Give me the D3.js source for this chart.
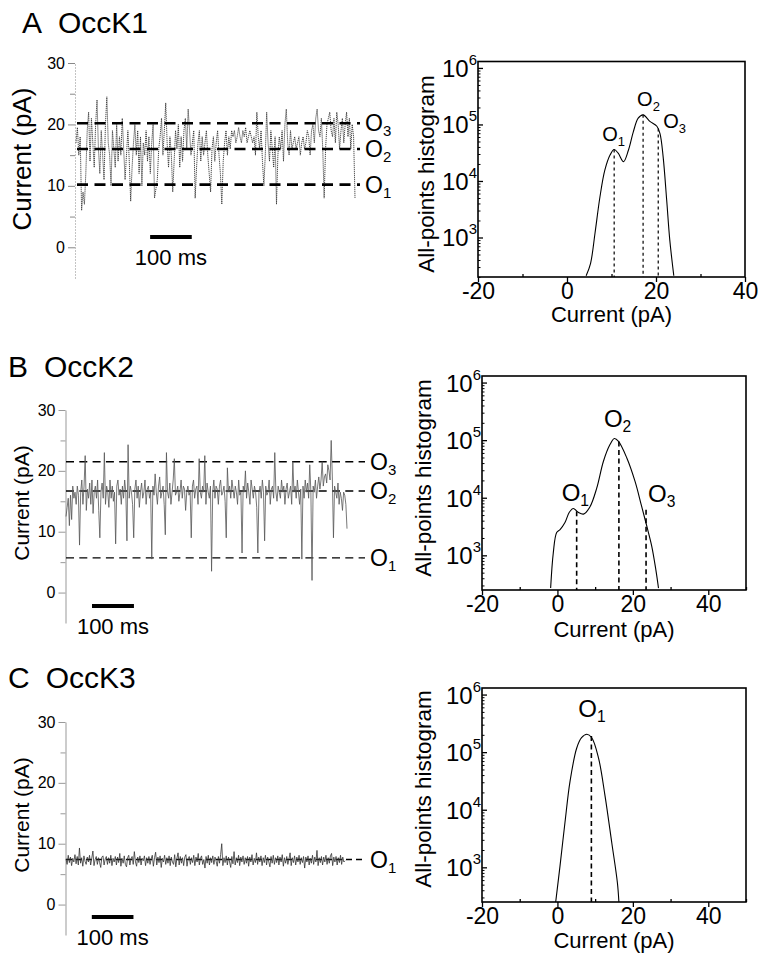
<!DOCTYPE html>
<html><head><meta charset="utf-8">
<script src="https://cdn.jsdelivr.net/npm/d3@7"></script>
<style>
body{margin:0;background:#fff}
svg{display:block}
text{font-family:"Liberation Sans",Arial,Helvetica,sans-serif;fill:#000}
</style>
</head><body>
<svg id="c" width="765" height="960"></svg>
<script>
// ---------- DATA ----------
const panelTitles = [["A","OccK1"],["B","OccK2"],["C","OccK3"]];
const traceTicks = [0,10,20,30];
const traceMinorTicks = [5,15,25];
const histXTicksA = [-20,0,20,40];
const histXMinorA = [-10,10,30];
const histXTicksBC = [-20,0,20,40];
const histXMinorBC = [-10,10,30,50];
const histYTicks = [1e3,1e4,1e5,1e6];

// Current traces (pA), evenly sampled over ~670 ms
const traceA = [17,19.5,15,18,6,9,7,12,19,22,
14,21,17,13,20,24,16,12,19,15,
11,20,24.5,17,15,10,19,16,13,20,
14,18,15,21,16,11,15,19,14,7.5,
13,17,20,15,19,12,18,10,17,15,
19,14,18,12,17,20,8,9.5,11,16,
18,21,15,19,23.5,17,13,18,15,9,
14,19,16,20,13,18,14,19,21,16,
22.5,19,15,17,19,8,13,17,19,14,
18,15,17,19,15,12,9,16,18,14,
17,19,15,12,7,14,17,19,15,18,
16,19,18,19,17,18,19.5,18,17,19,
18,19.5,17,18,19,18,17,18,15,22,
18,16,19,14,10,15,22,17,14,19,
16,13,18,7,15,18,16,19,14,20,
22.5,17,15,19,16,17,18,16,17,18,
15,17,18,16,17,19,18,15,19,20,
17,21,22.5,19,18,21,16,8,16,20,
21,22,19,18,21,17,22,20,16,19,
21,17,20,22,18,21,16,20,18,8];
const traceB = [12.5,14,15.5,11,16,12,17.5,15.5,16.5,14.5,
17.5,16,7.8,16.5,18.5,14.5,17.5,22.5,13.5,17,
15.5,18,14.5,18.5,13,16.5,17.5,15.5,18.5,13.5,
9,16.5,18,15.5,23,14.5,17.5,16.5,14,18.5,
15.5,17.5,15,16.5,8,17.5,18.5,16,17,14.5,
17.5,15.5,18.5,16.5,8.5,24.3,15.5,17.5,16.5,14.5,
9,17,18.5,15.5,17.5,14,16.5,18,15.5,16.5,
18.5,14.5,17,17.5,15.5,16.5,5.5,17.5,16,19.5,
16.5,14.5,17.5,19,15.5,16.5,17.5,14.5,9.5,23,
16.5,15.5,18,14.5,16.5,18.5,22,16,16.5,17.5,
15,16.5,18.5,15.5,17.5,17,13.5,16.5,17.5,16,
16.5,9,17.5,18.5,15.5,17,17.5,14.5,22,16.5,
15.5,17.5,16.5,22.5,14.5,18,16.5,15.5,17.5,3.5,
16.5,18.5,15.5,17.5,17,14.5,17.5,18.5,16,16.5,
17.5,15,9,20.5,16.5,17.5,15.5,18.5,17,15.5,
17.5,16.5,14.5,18.5,16,16.5,6.5,17.5,16.5,20,
15.5,18,16.5,14.5,18.5,17,15.5,17.5,16.5,14,
6.5,16.5,17.5,15.5,18.5,16.5,8.5,17.5,16,16.5,
18.5,14.5,17,17.5,15.5,23,16.5,15,17.5,16.5,
15.5,18.5,16.5,17.5,14.5,17,18,15.5,16.5,17.5,
14.5,21.5,16.5,17.5,15.5,18.5,16.5,14.5,17,5.5,
17.5,15.5,18.5,16.5,18,15.5,21,16.5,2,17.5,
16.5,18.5,15.5,17.5,19,17,18.5,21.5,17.5,19,
19.5,18,21,20,18.5,25,19,9,17.5,16.5,
15.5,18,14.5,16.5,15.5,13.5,16.5,16,14.5,10.5];
const traceC = [7.5,6.6,8.1,6.9,7.8,6.4,7.6,7.0,8.2,6.7,
7.9,6.5,9.3,6.8,7.7,6.3,8.0,7.1,6.6,7.8,
7.0,8.1,6.5,7.6,8.8,6.4,7.4,7.9,6.6,7.7,
6.9,6.1,7.8,8.0,6.5,7.5,7.9,6.6,7.7,6.8,
8.1,6.4,7.6,7.0,7.9,6.5,7.8,6.9,8.4,6.3,
7.6,6.8,8.0,6.6,6.2,7.7,8.1,6.5,7.5,7.9,
6.6,8.7,7.0,6.3,7.8,6.9,8.0,6.5,7.6,7.2,
8.0,6.4,7.7,6.8,7.9,6.6,7.5,8.1,6.3,7.7,
8.6,6.5,7.8,6.9,8.0,6.1,7.6,7.0,8.1,6.6,
7.7,6.8,8.0,6.4,7.8,7.0,6.6,8.2,6.2,7.6,
8.5,6.5,7.9,6.8,7.7,6.4,7.8,8.2,6.3,7.5,
7.9,6.6,7.7,6.9,8.1,6.4,7.8,7.0,8.4,6.5,
7.6,8.0,6.6,7.4,6.0,7.9,6.8,8.1,6.5,7.7,
6.9,8.0,6.6,7.8,7.1,6.3,7.9,6.8,8.2,10.0,
6.4,7.7,6.9,8.0,6.5,7.8,7.0,6.1,7.9,6.7,
8.7,6.5,7.7,6.9,8.1,6.4,7.8,7.0,8.0,6.6,
7.7,6.8,7.9,6.3,7.8,7.0,8.2,6.5,7.6,6.9,
8.5,6.6,7.8,7.0,8.0,6.4,7.7,6.9,8.1,6.5,
7.8,7.0,6.2,7.9,6.8,8.1,6.6,7.7,6.9,8.0,
6.5,7.8,7.0,8.2,6.3,7.7,6.8,7.9,6.6,7.5,
8.5,6.4,7.7,6.9,8.0,6.5,7.8,7.0,8.1,6.6,
7.7,6.9,7.9,6.0,7.8,7.0,8.0,6.5,7.6,6.8,
8.1,6.6,7.8,7.0,8.9,6.4,7.7,6.9,7.9,6.5,
7.8,7.0,8.1,6.6,7.7,6.8,8.0,8.4,6.4,7.8,
7.0,7.9,6.5,7.7,6.9,8.1,6.6,7.8,7.0,7.2];
const traceDurationMs = 670;

// Open levels on traces (pA)
const traceLevelsA = [10.2,16,20.2];
const traceLevelsB = [5.7,16.7,21.5];
const traceLevelsC = [7.4];
const levelNamesA = ["1","2","3"];
const levelNamesB = ["1","2","3"];
const levelNamesC = ["1"];

// All-points histograms: current (pA) vs counts
const histCurA = [4.3,5.3,6.3,7.4,8.5,9.7,10.6,11.5,12.7,13.8,14.9,16.0,17.1,18.7,20.2,20.9,21.6,22.4,23.1,24.0];
const histCntA = [210,350,1200,5200,15500,29000,36000,31000,22000,35000,74000,129000,148000,112000,93000,69000,27000,4600,900,210];
const histCurB = [-1.8,-1.1,-0.2,0.7,2.0,3.15,4.2,5.5,6.9,8.6,10.4,12.2,13.9,15.1,16.2,18.4,20.6,22.3,23.7,25.0,26.1,26.8];
const histCntB = [270,1100,2500,2800,3700,5600,6500,5600,5200,6900,14500,43000,83000,107000,95000,49000,19000,7200,3200,1450,560,270];
const histCurC = [-0.46,0.68,2.0,3.34,5.1,6.4,7.8,9.1,10.9,12.6,14.4,15.9,16.3];
const histCntC = [250,1050,6000,31000,117000,178000,204000,178000,79000,17800,2700,540,250];

// Peak markers on histograms
const histLevelsA = [10.6,17.1,20.5];
const histTopsA = [36000,148000,85000];
const histLevelsB = [5.1,16.3,23.5];
const histTopsB = [5800,95000,6200];
const histLevelsC = [9.0];
const histTopsC = [190000];

// ---------- DRAWING ----------
const svg = d3.select("#c");

const titlePos = [[22,33],[8,377],[8,688]];
panelTitles.forEach((t,i)=>{
  const tx = svg.append("text").attr("x",titlePos[i][0]).attr("y",titlePos[i][1])
    .style("font-size","30px");
  tx.append("tspan").text(t[0]);
  tx.append("tspan").attr("dx",16).text(t[1]);
});

function drawTrace(cfg){
  const g = svg.append("g");
  const n = cfg.data.length;
  const x = d3.scaleLinear().domain([0, traceDurationMs]).range([cfg.x0, cfg.x1]);
  const y = d3.scaleLinear().domain([-5,30]).range([cfg.yBot, cfg.yTop]);
  const ax = g.append("g").attr("transform",`translate(${cfg.axX},0)`)
    .call(d3.axisLeft(y).tickValues(traceTicks).tickSize(7).tickSizeOuter(0).tickPadding(3).tickFormat(d=>String(d)));
  ax.select(".domain").attr("stroke",cfg.axColor).attr("stroke-width",1)
    .attr("stroke-dasharray",cfg.axDash||null);
  ax.selectAll(".tick line").attr("stroke",cfg.axColor);
  ax.selectAll(".tick text").style("font-size","16px").style("font-family","Liberation Sans, Arial, sans-serif").attr("fill","#000");
  const axm = g.append("g").attr("transform",`translate(${cfg.axX},0)`)
    .call(d3.axisLeft(y).tickValues(traceMinorTicks).tickSize(5).tickSizeOuter(0).tickFormat(""));
  axm.select(".domain").remove();
  axm.selectAll(".tick line").attr("stroke",cfg.axColor);
  g.append("text").attr("transform",`translate(${cfg.labX},${cfg.labY}) rotate(-90)`)
    .attr("text-anchor","middle").style("font-size",cfg.labSize+"px").text("Current (pA)");
  const drawLevels = ()=>cfg.levels.forEach(lv=>{
    g.append("line").attr("x1",cfg.dashX0).attr("x2",cfg.dashX1)
      .attr("y1",y(lv)).attr("y2",y(lv))
      .attr("stroke","#000").attr("stroke-width",cfg.dashW).attr("stroke-dasharray",cfg.dashPat);
  });
  if(!cfg.dashOnTop) drawLevels();
  const line = d3.line().x((d,i)=>x(i*traceDurationMs/(n-1))).y(d=>y(d));
  g.append("path").datum(cfg.data).attr("d",line).attr("fill","none")
    .attr("stroke",cfg.trColor).attr("stroke-width",cfg.trW)
    .attr("stroke-dasharray",cfg.trDash||null).attr("stroke-linejoin","round");
  if(cfg.dashOnTop) drawLevels();
  cfg.levels.forEach((lv,i)=>{
    const t = g.append("text").attr("x",cfg.dashX1+5).attr("y",y(lv)+8).style("font-size","23px");
    t.append("tspan").text("O");
    t.append("tspan").attr("dy",5).style("font-size","15px").text(cfg.names[i]);
  });
  g.append("line").attr("x1",x(cfg.barStart)).attr("x2",x(cfg.barStart+100))
    .attr("y1",cfg.barY).attr("y2",cfg.barY).attr("stroke","#000").attr("stroke-width",4);
  g.append("text").attr("x",(x(cfg.barStart)+x(cfg.barStart+100))/2).attr("y",cfg.barY+28)
    .attr("text-anchor","middle").style("font-size","22px").text("100 ms");
}

drawTrace({data:traceA, x0:76, x1:355, yTop:63, yBot:278, axX:75, axColor:"#888", axDash:"1,2",
  labX:31, labY:159, labSize:26, levels:traceLevelsA, names:levelNamesA,
  dashX0:77, dashX1:360, dashW:2.6, dashPat:"11,6.5", dashOnTop:true,
  trColor:"#333", trW:0.9, trDash:"1.2,0.8", barStart:178, barY:237});
drawTrace({data:traceB, x0:66, x1:347, yTop:410, yBot:623, axX:65.5, axColor:"#999",
  labX:29, labY:503, labSize:21, levels:traceLevelsB, names:levelNamesB,
  dashX0:66, dashX1:365, dashW:1.4, dashPat:"8,5.3", dashOnTop:false,
  trColor:"#555", trW:0.8, barStart:62, barY:606});
drawTrace({data:traceC, x0:66, x1:345, yTop:722, yBot:935, axX:65.5, axColor:"#999",
  labX:29, labY:815, labSize:21, levels:traceLevelsC, names:levelNamesC,
  dashX0:66, dashX1:365, dashW:1.4, dashPat:"6,4", dashOnTop:false,
  trColor:"#333", trW:0.8, barStart:62, barY:917});

function drawHist(cfg){
  const g = svg.append("g");
  const x = d3.scaleLinear().domain(cfg.xDom).range([cfg.left,cfg.right]);
  const y = d3.scaleLog().domain(cfg.yDom).range([cfg.bottom,cfg.top]);
  const cp = "clip"+cfg.id;
  svg.append("defs").append("clipPath").attr("id",cp).append("rect")
    .attr("x",cfg.left).attr("y",cfg.top).attr("width",cfg.right-cfg.left).attr("height",cfg.bottom-cfg.top);
  const data = cfg.cur.map((c,i)=>[c,cfg.cnt[i]]);
  const line = d3.line().x(d=>x(d[0])).y(d=>y(d[1])).curve(d3.curveCatmullRom.alpha(0.5));
  g.append("path").datum(data).attr("d",line).attr("fill","none").attr("stroke","#000")
    .attr("stroke-width",1.1).attr("clip-path",`url(#${cp})`);
  cfg.levels.forEach((lv,i)=>{
    g.append("line").attr("x1",x(lv)).attr("x2",x(lv)).attr("y1",y(cfg.tops[i])).attr("y2",cfg.bottom)
      .attr("stroke","#000").attr("stroke-width",cfg.dashW).attr("stroke-dasharray",cfg.dashPat);
    const t = g.append("text").attr("x",x(lv)+cfg.labDx[i]).attr("y",y(cfg.tops[i])+cfg.labDy[i])
      .style("font-size",cfg.labSize+"px");
    t.append("tspan").text("O");
    t.append("tspan").attr("dy",5).style("font-size",(cfg.labSize*0.65)+"px").text(cfg.names[i]);
  });
  g.append("rect").attr("x",cfg.left).attr("y",cfg.top).attr("width",cfg.right-cfg.left)
    .attr("height",cfg.bottom-cfg.top).attr("fill","none").attr("stroke","#000").attr("stroke-width",1.6);
  // x axis
  const xa = g.append("g").attr("transform",`translate(0,${cfg.bottom})`)
    .call(d3.axisBottom(x).tickValues(cfg.xTicks).tickSize(5).tickSizeOuter(0).tickPadding(4).tickFormat(d=>String(d)));
  xa.select(".domain").remove();
  xa.selectAll(".tick line").attr("stroke","#000").attr("stroke-width",1.3);
  xa.selectAll(".tick text").attr("dy",null).attr("y",22).style("font-size","23px").attr("fill","#000");
  const xm = g.append("g").attr("transform",`translate(0,${cfg.bottom})`)
    .call(d3.axisBottom(x).tickValues(cfg.xMinor).tickSize(-3).tickSizeOuter(0).tickFormat(""));
  xm.select(".domain").remove();
  xm.selectAll(".tick line").attr("stroke","#000").attr("stroke-width",1.3);
  g.append("text").attr("x",(cfg.left+cfg.right)/2).attr("y",cfg.xLabY).attr("text-anchor","middle")
    .style("font-size","22px").text("Current (pA)");
  // y axis (log), ticks inside
  const ya = g.append("g").attr("transform",`translate(${cfg.left},0)`)
    .call(d3.axisLeft(y).tickValues(histYTicks).tickSize(-5).tickSizeOuter(0).tickFormat(""));
  ya.select(".domain").remove();
  ya.selectAll(".tick line").attr("stroke","#000").attr("stroke-width",1.3);
  ya.selectAll(".tick").each(function(d){
    const tk = d3.select(this);
    const t = tk.append("text").attr("x",-1).attr("y",8.5).attr("text-anchor","end").style("font-size","24px").attr("fill","#000");
    t.append("tspan").text("10");
    t.append("tspan").attr("dy",-12).style("font-size","15px").text(Math.round(Math.log10(d)));
  });
  const minor = [];
  for(let e=2;e<=5;e++){ for(let m=2;m<=9;m++){ const v=m*Math.pow(10,e); if(v>=cfg.yDom[0]&&v<=cfg.yDom[1]) minor.push(v);} }
  const ym = g.append("g").attr("transform",`translate(${cfg.left},0)`)
    .call(d3.axisLeft(y).tickValues(minor).tickSize(-2.5).tickSizeOuter(0).tickFormat(""));
  ym.select(".domain").remove();
  ym.selectAll(".tick line").attr("stroke","#000").attr("stroke-width",1);
  g.append("text").attr("transform",`translate(${cfg.yLabX},${cfg.yLabY}) rotate(-90)`)
    .attr("text-anchor","middle").style("font-size","22.5px").text("All-points histogram");
}

drawHist({id:"A", left:478, right:745, top:61.5, bottom:277, xDom:[-20,40], yDom:[200,1.3e6],
  xTicks:histXTicksA, xMinor:histXMinorA, cur:histCurA, cnt:histCntA,
  levels:histLevelsA, tops:histTopsA, names:["1","2","3"], labDx:[-12,-6,5], labDy:[-9,-9,0], labSize:20,
  dashW:1.2, dashPat:"3,3", xLabY:322, yLabX:434, yLabY:174});
drawHist({id:"B", left:482, right:746, top:376, bottom:590, xDom:[-20,50], yDom:[250,1.3e6],
  xTicks:histXTicksBC, xMinor:histXMinorBC, cur:histCurB, cnt:histCntB,
  levels:histLevelsB, tops:histTopsB, names:["1","2","3"], labDx:[-15,-15,2], labDy:[-10,-14,-8], labSize:24,
  dashW:1.6, dashPat:"5,3.5", xLabY:637, yLabX:431, yLabY:478});
drawHist({id:"C", left:482, right:746, top:688, bottom:902, xDom:[-20,50], yDom:[250,1.3e6],
  xTicks:histXTicksBC, xMinor:histXMinorBC, cur:histCurC, cnt:histCntC,
  levels:histLevelsC, tops:histTopsC, names:["1"], labDx:[-13], labDy:[-19], labSize:24,
  dashW:1.6, dashPat:"5,3.5", xLabY:948, yLabX:431, yLabY:789});
</script>
</body></html>
